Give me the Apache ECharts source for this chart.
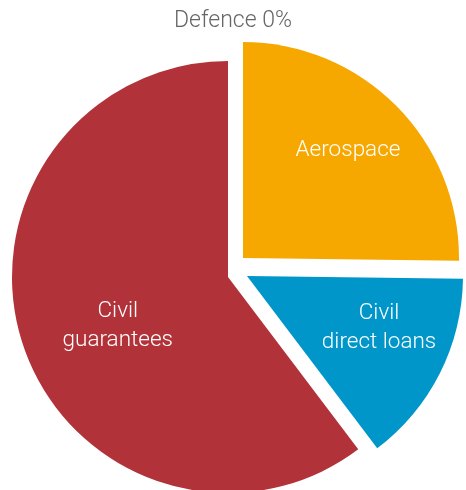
<!DOCTYPE html>
<html>
<head>
<meta charset="utf-8">
<script src="https://cdn.jsdelivr.net/npm/echarts@6/dist/echarts.min.js"></script>
<style>
html, body { margin: 0; padding: 0; background: #fff; }
#main { width: 466px; height: 490px; }
</style>
</head>
<body>
<div id="main"></div>
<script>
var categories = ['Aerospace', 'Civil\ndirect loans', 'Civil\nguarantees', 'Defence'];
var shares = [25.2, 14.5, 60.3, 0];

var colors = ['#f6a800', '#0096c9', '#b2323a', '#888888'];
// each slice is pulled out a little on its own, so each gets its own centre
var pieces = [
  {center: [243, 258], offset: [26, -30]},
  {center: [247, 276], offset: [33, 2]},
  {center: [228, 277], offset: [-5, 14]}
];

var chartDom = document.getElementById('main');
var myChart = echarts.init(chartDom);

var series = pieces.map(function (piece, i) {
  return {
    type: 'pie',
    radius: 216,
    center: piece.center,
    startAngle: 90,
    silent: true,
    avoidLabelOverlap: false,
    labelLine: {show: false},
    data: shares.map(function (v, j) {
      return {
        name: categories[j],
        value: v,
        itemStyle: {color: j === i ? colors[j] : 'rgba(0,0,0,0)'},
        label: {
          show: j === i,
          position: 'inside',
          offset: piece.offset,
          formatter: '{b}',
          color: '#fff',
          fontFamily: 'Roboto',
          fontWeight: 300,
          fontSize: 22.5,
          lineHeight: 29
        }
      };
    })
  };
});

var option = {
  animation: false,
  title: {
    text: categories[3] + ' ' + shares[3] + '%',
    left: 'center',
    top: 5,
    textStyle: {
      color: '#666',
      fontFamily: 'Roboto',
      fontWeight: 300,
      fontSize: 23
    }
  },
  series: series
};

option && myChart.setOption(option);
</script>
</body>
</html>
